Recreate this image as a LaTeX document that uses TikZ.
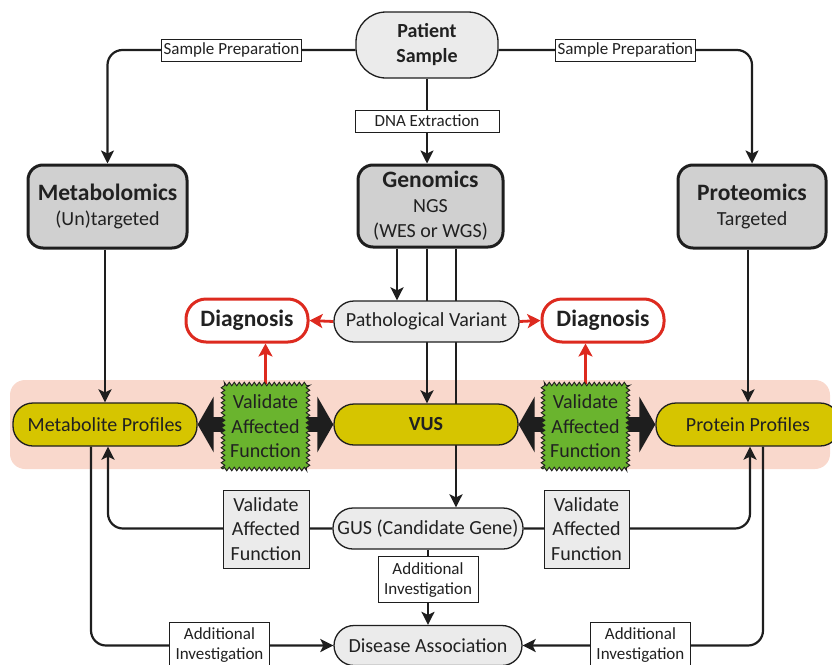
\documentclass[tikz,border=0pt]{standalone}
\usepackage{fontspec}
\setmainfont{Carlito}
\usepackage{xcolor}
\usepackage{tikz}
\usetikzlibrary{arrows.meta,decorations.pathmorphing}
\definecolor{linegray}{HTML}{1E1E1E}
\definecolor{boxgray}{HTML}{D0D0D0}
\definecolor{palegray}{HTML}{EBEBEB}
\definecolor{vusyellow}{HTML}{D6C500}
\definecolor{valgreen}{HTML}{6AB42E}
\definecolor{bandpink}{HTML}{F9D8CC}
\definecolor{diagred}{HTML}{DD2A1F}
\pgfdeclarelayer{back}
\pgfdeclarelayer{lines}
\pgfsetlayers{back,lines,main}

\begin{document}
\begin{tikzpicture}[x=1pt,y=-1pt]
\tikzstyle{every node}+=[inner sep=0pt, text=black!87, align=center, font=\fontsize{20}{25}\selectfont]
\tikzstyle{omics}=[draw=linegray, fill=boxgray, line width=3pt, rounded corners=15pt]
\tikzstyle{pill}=[draw=linegray, line width=1.3pt, rounded corners=20pt, minimum height=41pt]
\tikzstyle{diag}=[draw=diagred, fill=white, line width=3pt, rounded corners=20pt, minimum width=122pt, minimum height=43pt, font=\bfseries\fontsize{23.5}{27}\selectfont]
\tikzstyle{profile}=[pill, fill=vusyellow, minimum width=184pt, minimum height=43pt]
\tikzstyle{valzig}=[draw=linegray, fill=valgreen, line width=0.9pt, minimum width=85pt, minimum height=85pt, decorate, decoration={zigzag, segment length=5pt, amplitude=1.8pt}, font=\fontsize{20}{24.5}\selectfont]
\tikzstyle{valbox}=[draw=linegray, fill=palegray, line width=1pt, minimum width=86pt, minimum height=78pt, font=\fontsize{20}{24.5}\selectfont]
\tikzstyle{lbl}=[draw=linegray, fill=white, line width=1pt, sharp corners, inner xsep=2pt, minimum height=22pt, font=\fontsize{17}{20}\selectfont]
\tikzstyle{lbltwo}=[lbl, minimum width=100pt, minimum height=46pt]
\tikzstyle{conn}=[draw=linegray, line width=2.2pt, -{Stealth[length=13pt,width=13pt,inset=3pt]}]
\tikzstyle{redarrow}=[draw=diagred, line width=2.8pt, -{Stealth[length=13pt,width=14pt,inset=3pt]}]
\tikzstyle{fat}=[draw=linegray, line width=15pt, {Triangle[length=16pt,width=55pt]}-{Triangle[length=16pt,width=55pt]}]
\useasboundingbox (0,0) rectangle (832,664);

% band behind the profile row
\begin{pgfonlayer}{back}
\fill[bandpink, rounded corners=15pt] (10,380) rectangle (830,469);
\end{pgfonlayer}

% top
\node[pill, fill=palegray, minimum width=142pt, minimum height=66pt, rounded corners=30pt, font=\bfseries\fontsize{20}{25}\selectfont] (patient) at (427,45) {Patient\\Sample};
\node[omics, minimum width=159pt, minimum height=83pt] (metab) at (107.5,206.5) {{\bfseries\fontsize{23.5}{27}\selectfont Metabolomics}\\(Un)targeted};
\node[omics, minimum width=145pt, minimum height=82pt] (geno) at (430.5,206) {{\bfseries\fontsize{23.5}{27}\selectfont Genomics}\\NGS\\(WES or WGS)};
\node[omics, minimum width=148pt, minimum height=83pt] (prot) at (752,206.5) {{\bfseries\fontsize{23.5}{27}\selectfont Proteomics}\\Targeted};

% variant and diagnosis
\node[pill, fill=palegray, minimum width=185pt] (pv) at (426.5,321.5) {Pathological Variant};
\node[diag] (diag1) at (247,320.5) {Diagnosis};
\node[diag] (diag2) at (603,320.5) {Diagnosis};

% profile row
\node[profile] (metprof) at (105,424.5) {Metabolite Profiles};
\node[profile, minimum height=41pt, font=\bfseries\fontsize{20}{25}\selectfont] (vus) at (426,424.5) {VUS};
\node[profile] (protprof) at (748,424.5) {Protein Profiles};
\node[valzig] (val1) at (265.5,426.5) {Validate\\Affected\\Function};
\node[valzig] (val2) at (585.5,426.5) {Validate\\Affected\\Function};

% lower part
\node[pill, fill=palegray, minimum width=190pt] (gus) at (428,528.5) {GUS (Candidate Gene)};
\node[valbox] (val3) at (266,529) {Validate\\Affected\\Function};
\node[valbox, minimum width=85pt] (val4) at (586.5,529) {Validate\\Affected\\Function};
\node[pill, fill=palegray, minimum width=188pt, minimum height=40pt] (disease) at (428,645.5) {Disease Association};

\begin{pgfonlayer}{lines}
\draw[conn, rounded corners=15pt] ([yshift=-5pt]patient.west) -| node[lbl, pos=0.25] {Sample Preparation} (metab.north);
\draw[conn, rounded corners=15pt] ([yshift=-5pt]patient.east) -| node[lbl, pos=0.25] {Sample Preparation} (prot.north);
\draw[conn] (patient.south) -- node[lbl, minimum width=144pt] {DNA Extraction} (geno.north -| patient.south);

\draw[conn] (geno.south -| 397,0) -- (pv.north -| 397,0);
\draw[conn] (geno.south -| 427,0) -- (vus.north -| 427,0);
\draw[conn] (geno.south -| 456,0) -- (gus.north -| 456,0);
\draw[conn] (metab.south -| metprof.north) -- (metprof.north);
\draw[conn] (prot.south -| protprof.north) -- (protprof.north);

\draw[redarrow] (pv.west) -- (diag1.east);
\draw[redarrow] (pv.east) -- (diag2.west);
\draw[redarrow] (val1.north) -- (val1.north |- diag1.south);
\draw[redarrow] (val2.north) -- (val2.north |- diag2.south);

\draw[fat] (metprof.east) -- (vus.west);
\draw[fat] (vus.east) -- (protprof.west);

\draw[conn, rounded corners=15pt] (gus.west) -| ([xshift=3pt]metprof.south);
\draw[conn, rounded corners=15pt] (gus.east) -| ([xshift=2pt]protprof.south);
\draw[conn] (gus.south) -- node[lbltwo, pos=0.4] {Additional\\Investigation} (disease.north);
\draw[conn, rounded corners=15pt] ([xshift=-14pt]metprof.south) |- node[lbltwo, pos=0.765] {Additional\\Investigation} (disease.west);
\draw[conn, rounded corners=15pt] ([xshift=15pt]protprof.south) |- node[lbltwo, pos=0.755] {Additional\\Investigation} (disease.east);
\end{pgfonlayer}
\end{tikzpicture}
\end{document}
